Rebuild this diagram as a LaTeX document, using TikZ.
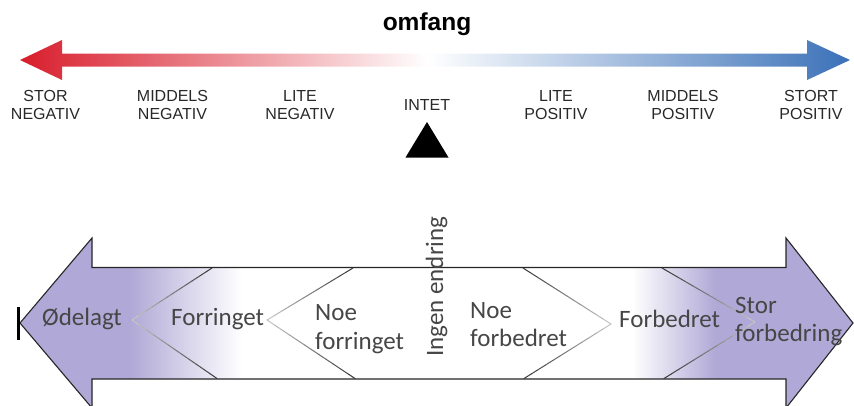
\documentclass[tikz,border=0pt]{standalone}
\usepackage{fontspec}
\setmainfont{Liberation Sans}
\newfontfamily\calfont{Carlito}
\usetikzlibrary{calc}
\definecolor{redA}{RGB}{216,27,42}
\definecolor{blueA}{RGB}{58,112,184}
\definecolor{lilac}{RGB}{176,168,214}
\definecolor{toptxt}{RGB}{40,40,40}
\definecolor{bottxt}{RGB}{70,70,70}
\newcommand\gleg[2]{%
  \foreach \i [evaluate=\i as \c using {int(78-5*\i)}] in {0,...,11} {%
    \draw[black!\c, line width=1, line cap=round] ($(#1)!{\i/12}!(#2)$) -- ($(#1)!{(\i+1)/12}!(#2)$);}}
\tikzset{
  toplabel/.style={font=\fontsize{16}{18}\selectfont, text=toptxt, align=center, anchor=base, inner sep=0pt},
  botlabel/.style={font=\calfont\fontsize{25}{28.5}\selectfont, text=bottxt, align=left, anchor=base west, inner sep=0pt},
  outline/.style={draw=black!85, line width=1.1}
}
\begin{document}
\begin{tikzpicture}[x=1pt,y=-1pt]
\useasboundingbox (0,0) rectangle (854,405);

% title
\node[font=\fontsize{24.5}{28}\selectfont\bfseries, anchor=base, inner sep=0pt] (title) at (427,30) {omfang};

% top gradient arrow
\begin{scope}
  \clip (20,60) -- (62,40) -- (62,53.5) -- (807,53.5) -- (807,40) -- (850,60) -- (807,80) -- (807,66.5) -- (62,66.5) -- (62,80) -- cycle;
  \shade[left color=redA, right color=white] (18,38) rectangle (428,82);
  \shade[left color=white, right color=blueA] (428,38) rectangle (852,82);
\end{scope}

% top labels (base = last line)
\node[toplabel] (sn) at (45.5,119) {STOR\\NEGATIV};
\node[toplabel] (mn) at (172.5,119) {MIDDELS\\NEGATIV};
\node[toplabel] (ln) at (300,119) {LITE\\NEGATIV};
\node[toplabel] (int) at (427,110) {INTET};
\node[toplabel] (lp) at (556,119) {LITE\\POSITIV};
\node[toplabel] (mp) at (683,119) {MIDDELS\\POSITIV};
\node[toplabel] (sp) at (811,119) {STORT\\POSITIV};

% marker triangle
\fill (427,122) -- (405.5,157.5) -- (448.5,157.5) -- cycle;

% bottom double arrow
\begin{scope}
  \clip (20,323) -- (92,238) -- (92,267.5) -- (786,267.5) -- (786,238) -- (853,323) -- (786,408) -- (786,379) -- (92,379) -- (92,408) -- cycle;
  \fill[white] (0,230) rectangle (860,410);
  \fill[lilac] (0,230) rectangle (130,410);
  \shade[left color=lilac, right color=white] (130,230) rectangle (242,410);
  \shade[left color=white, right color=lilac] (632,230) rectangle (716,410);
  \fill[lilac] (716,230) rectangle (860,410);
\end{scope}
\draw[outline] (20,323) -- (92,238) -- (92,267.5) -- (786,267.5) -- (786,238) -- (853,323) -- (786,408) -- (786,379) -- (92,379) -- (92,408) -- cycle;

% end bar
\draw[line width=3] (18,307) -- (18,340);

% chevrons
\coordinate (c1a) at (212,268);
\coordinate (c1p) at (132,320);
\coordinate (c1b) at (217,378.5);
\coordinate (c2a) at (353,268);
\coordinate (c2p) at (267,320);
\coordinate (c2b) at (355,378.5);
\coordinate (c3a) at (523,268);
\coordinate (c3p) at (611,324);
\coordinate (c3b) at (524,378.5);
\coordinate (c4a) at (662,268);
\coordinate (c4p) at (755,322);
\coordinate (c4b) at (664,378.5);
\gleg{c1a}{c1p}\gleg{c1b}{c1p}
\gleg{c2a}{c2p}\gleg{c2b}{c2p}
\gleg{c3a}{c3p}\gleg{c3b}{c3p}
\gleg{c4a}{c4p}\gleg{c4b}{c4p}

% bottom labels (base = last line)
\node[botlabel] (od) at (42,325) {Ødelagt};
\node[botlabel] (fo) at (171,325) {Forringet};
\node[botlabel] (nf) at (315,349) {Noe\\forringet};
\node[botlabel, rotate=90] (ie) at (443,357) {Ingen endring};
\node[botlabel] (nb) at (470,346.5) {Noe\\forbedret};
\node[botlabel] (fb) at (619,327) {Forbedret};
\node[botlabel] (sf) at (735,341.5) {Stor\\forbedring};
\end{tikzpicture}
\end{document}
